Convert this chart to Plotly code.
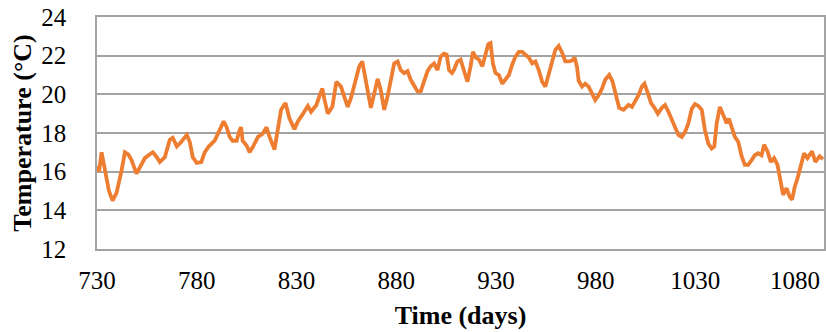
import plotly.graph_objects as go

days = [730, 731, 732.3, 734, 736, 737.8, 739.8, 742.3, 744, 745.7, 747.3, 749.8, 751.5, 754, 756.5, 758,
        760, 761.5, 764, 766.5, 768, 770, 772.3, 775, 776.5, 778, 780, 782.3, 784, 786, 789, 791.5,
        793.5, 795, 796.5, 798, 800, 801.5, 802.3, 803, 805, 806.5, 808, 810.7, 813, 815, 816.5, 819,
        820.7, 822.3, 824.5, 826.5, 829, 830.7, 833, 835.7, 837.3, 840, 841.5, 843, 844, 845.7, 848,
        850, 852.3, 854, 855.7, 857.3, 860, 861.5, 863, 864, 865.7, 867.3, 869, 870.7, 872.3, 874,
        875.7, 877.3, 879, 880.7, 882.3, 884, 885.7, 887.3, 889, 890.7, 892.3, 894, 895.7, 897.3, 899,
        900.7, 902.3, 904, 905.3, 906.5, 908, 909, 910.7, 912.3, 914, 915.7, 917.3, 918.5, 920, 921.5,
        923.2, 924.8, 926.2, 927.3, 928.5, 929.8, 931.5, 933.2, 934.8, 936.5, 938.2, 939.8, 941.5,
        943.2, 944.8, 946.5, 948.2, 949.8, 951.5, 953.2, 954.8, 956.5, 958.2, 959.8, 961.5, 963.2,
        964.8, 966.5, 968.2, 969.5, 970.7, 971.5, 973.2, 974.8, 976.5, 978.2, 979.8, 981.5, 983.2,
        984.8, 986.8, 988.5, 990.2, 991.8, 994, 996.5, 998.2, 999.8, 1001.5, 1003.2, 1004.5, 1006.2,
        1007.8, 1009.5, 1011.2, 1013.2, 1014.8, 1016.5, 1018.2, 1019.8, 1021.5, 1023.2, 1024.8, 1026.5,
        1028.2, 1029.8, 1031.5, 1033.2, 1034.8, 1036.5, 1038.2, 1039.5, 1040.7, 1042.3, 1044, 1045.7,
        1046.8, 1048.2, 1049.8, 1051.5, 1053.2, 1054.8, 1056.5, 1058.2, 1059.8, 1061.5, 1063.2, 1064.5,
        1066.2, 1067.8, 1069.5, 1071.2, 1072.8, 1074, 1075.7, 1077.3, 1078.5, 1079.8, 1081.2, 1082.8,
        1084.5, 1086.2, 1088.5, 1090.2, 1092.3, 1094]

temps = [16.3, 16.0, 17.0, 16.05, 15.0, 14.5, 14.9, 16.05, 17.0, 16.9, 16.6, 15.9, 16.2, 16.7, 16.9, 17.0,
         16.75, 16.5, 16.75, 17.65, 17.75, 17.3, 17.55, 17.9, 17.55, 16.75, 16.45, 16.5, 17.0, 17.3, 17.6, 18.15,
         18.6, 18.3, 17.8, 17.6, 17.6, 18.15, 18.3, 17.6, 17.35, 17.0, 17.25, 17.8, 17.95, 18.3, 17.8, 17.15,
         18.15, 19.2, 19.55, 18.75, 18.2, 18.6, 18.95, 19.4, 19.1, 19.45, 19.9, 20.3, 19.75, 19.0, 19.35,
         20.65, 20.4, 19.9, 19.35, 19.8, 20.75, 21.45, 21.7, 21.1, 20.05, 19.3, 20.05, 20.8, 20.2, 19.2,
         19.9, 20.75, 21.6, 21.7, 21.25, 21.1, 21.2, 20.75, 20.4, 20.15, 20.15, 20.75, 21.2, 21.45, 21.6,
         21.25, 21.95, 22.1, 22.05, 21.25, 21.1, 21.27, 21.7, 21.8, 21.2, 20.65, 21.45, 22.2, 21.9, 21.8,
         21.45, 22.0, 22.6, 22.65, 21.6, 21.1, 21.0, 20.55, 20.75, 21.0, 21.55, 21.95, 22.2,
         22.2, 22.05, 21.9, 21.6, 21.7, 21.25, 20.65, 20.4, 21.1, 21.8, 22.3, 22.5, 22.15,
         21.7, 21.7, 21.75, 21.9, 21.4, 20.7, 20.4, 20.55, 20.4, 20.05, 19.7, 19.95, 20.3,
         20.75, 21.0, 20.65, 19.95, 19.3, 19.2, 19.45, 19.35, 19.6, 19.95, 20.4, 20.55, 20.05,
         19.55, 19.3, 19.0, 19.3, 19.45, 19.1, 18.65, 18.25, 17.9, 17.8, 18.05, 18.5,
         19.25, 19.5, 19.4, 19.2, 18.15, 17.45, 17.2, 17.3, 18.5, 19.35, 18.9, 18.5,
         18.75, 18.3, 17.8, 17.55, 16.8, 16.35, 16.35, 16.6, 16.85, 16.95, 16.85, 17.4,
         17.05, 16.5, 16.7, 16.35, 15.55, 14.8, 15.15, 14.7, 14.55, 15.2, 15.65, 16.2,
         16.95, 16.7, 17.05, 16.5, 16.8, 16.65]

x_ticks = [730, 780, 830, 880, 930, 980, 1030, 1080]
y_ticks = [12, 14, 16, 18, 20, 22, 24]

serif = "Liberation Serif"
grid = "#a3a3a3"

fig = go.Figure(go.Scatter(x=days, y=temps, mode="lines",
                           line=dict(color="#ED7D31", width=3.8), showlegend=False))

fig.update_layout(
    width=826, height=332,
    margin=dict(l=97, r=2, t=17, b=83, autoexpand=False),
    paper_bgcolor="white", plot_bgcolor="white",
    font=dict(family=serif, size=25, color="black"),
    xaxis=dict(range=[730, 1094.5], tickvals=x_ticks, ticktext=[str(t) for t in x_ticks],
               automargin=False,
               showgrid=False, zeroline=False, showline=True, linecolor=grid, linewidth=1.5,
               mirror=True, ticks="outside", ticklen=8, tickcolor="rgba(0,0,0,0)",
               title=dict(text="<b>Time (days)</b>", font=dict(size=26), standoff=13)),
    yaxis=dict(range=[12, 24], tickvals=y_ticks, showgrid=True, gridcolor=grid, gridwidth=1.5,
               automargin=False,
               zeroline=False, showline=True, linecolor=grid, linewidth=1.5, mirror=True,
               ticks="outside", ticklen=24, tickcolor="rgba(0,0,0,0)",
               title=dict(text="<b>Temperature (°C)</b>", font=dict(size=26), standoff=2)),
)

# remove the page's default 8px body margin so the figure sits at the window's top-left corner
fig.write_html("out.html", config={"displayModeBar": False},
               post_script="document.body.style.margin='0';document.body.style.overflow='hidden';")
